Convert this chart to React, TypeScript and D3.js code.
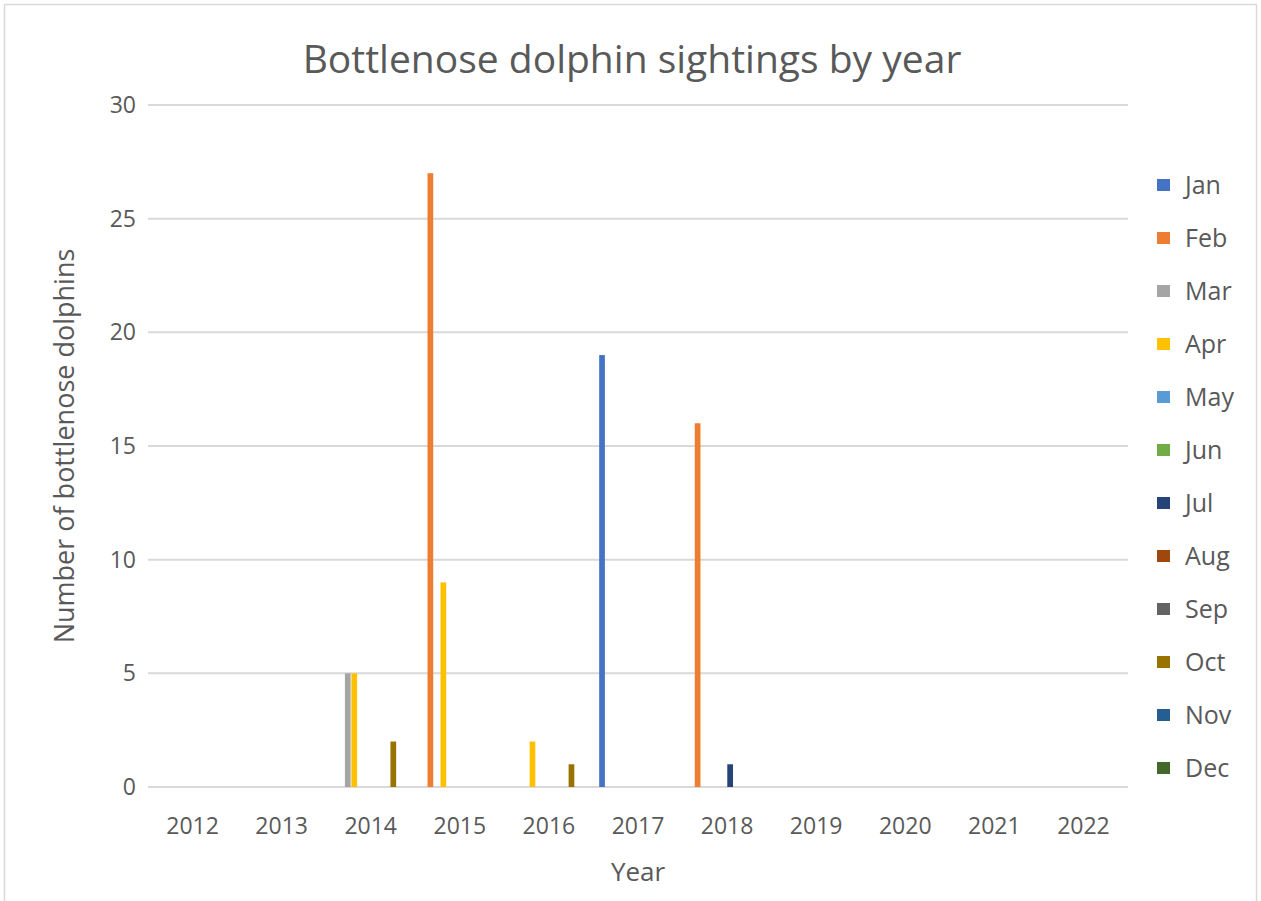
import React from "react";
import * as d3 from "d3";

const years = ["2012", "2013", "2014", "2015", "2016", "2017", "2018", "2019", "2020", "2021", "2022"];
const months = ["Jan", "Feb", "Mar", "Apr", "May", "Jun", "Jul", "Aug", "Sep", "Oct", "Nov", "Dec"];
const monthColors = ["#4472C4", "#ED7D31", "#A5A5A5", "#FFC000", "#5B9BD5", "#70AD47", "#264478", "#9E480E", "#636363", "#997300", "#255E91", "#43682B"];
// sightings per year, one value per month
const sightings2012 = [0, 0, 0, 0, 0, 0, 0, 0, 0, 0, 0, 0];
const sightings2013 = [0, 0, 0, 0, 0, 0, 0, 0, 0, 0, 0, 0];
const sightings2014 = [0, 0, 5, 5, 0, 0, 0, 0, 0, 2, 0, 0];
const sightings2015 = [0, 27, 0, 9, 0, 0, 0, 0, 0, 0, 0, 0];
const sightings2016 = [0, 0, 0, 2, 0, 0, 0, 0, 0, 1, 0, 0];
const sightings2017 = [19, 0, 0, 0, 0, 0, 0, 0, 0, 0, 0, 0];
const sightings2018 = [0, 16, 0, 0, 0, 0, 1, 0, 0, 0, 0, 0];
const sightings2019 = [0, 0, 0, 0, 0, 0, 0, 0, 0, 0, 0, 0];
const sightings2020 = [0, 0, 0, 0, 0, 0, 0, 0, 0, 0, 0, 0];
const sightings2021 = [0, 0, 0, 0, 0, 0, 0, 0, 0, 0, 0, 0];
const sightings2022 = [0, 0, 0, 0, 0, 0, 0, 0, 0, 0, 0, 0];
const sightings = [sightings2012, sightings2013, sightings2014, sightings2015, sightings2016, sightings2017, sightings2018, sightings2019, sightings2020, sightings2021, sightings2022];
const yTicks = [0, 5, 10, 15, 20, 25, 30];

const title = "Bottlenose dolphin sightings by year";
const xTitle = "Year";
const yTitle = "Number of bottlenose dolphins";

export default function App() {
  const W = 1261, H = 901;
  const left = 148, right = 1128, top = 105, bottom = 787;
  const font = "'Open Sans', sans-serif";
  const textColor = "#595959";

  const x0 = d3.scaleBand<string>().domain(years).range([left, right]).padding(0);
  const x1 = d3.scaleBand<string>().domain(months).range([0, x0.bandwidth()]).paddingInner(0).paddingOuter(0.85);
  const y = d3.scaleLinear().domain([0, 30]).range([bottom, top]);

  return (
    <svg width={W} height={H} style={{ position: "absolute", left: 0, top: 0, background: "#fff" }}>
      <rect x={0} y={0} width={W} height={H} fill="#fff" />
      <rect x={4.5} y={4.5} width={1252} height={H + 10} fill="none" stroke="#d9d9d9" strokeWidth={1.5} />
      <text x={632} y={73} textAnchor="middle" fontFamily={font} fontSize={39} fill={textColor}>{title}</text>
      {yTicks.map((t) => (
        <g key={t}>
          <line x1={left} x2={right} y1={y(t)} y2={y(t)} stroke="#d9d9d9" strokeWidth={2} />
          <text x={136} y={y(t)} dy="0.35em" textAnchor="end" fontFamily={font} fontSize={23} fill={textColor}>{t}</text>
        </g>
      ))}
      {years.map((yr, i) => (
        <g key={yr} transform={`translate(${x0(yr)},0)`}>
          {months.map((m, j) => {
            const v = sightings[i][j];
            if (!v) return null;
            return (
              <rect key={m} x={(x1(m) as number) + 0.2} width={x1.bandwidth() - 0.8} y={y(v)} height={y(0) - y(v)} fill={monthColors[j]} />
            );
          })}
          <text x={x0.bandwidth() / 2} y={826} dy="0.35em" textAnchor="middle" fontFamily={font} fontSize={23} fill={textColor}>{yr}</text>
        </g>
      ))}
      <text x={638} y={872} dy="0.35em" textAnchor="middle" fontFamily={font} fontSize={26} fill={textColor}>{xTitle}</text>
      <text transform={`translate(65,${y(15)}) rotate(-90)`} dy="0.35em" textAnchor="middle" fontFamily={font} fontSize={27} fill={textColor}>{yTitle}</text>
      {months.map((m, j) => {
        const cy = 185 + j * 53.0;
        return (
          <g key={m}>
            <rect x={1157} y={cy - 6} width={13} height={12} fill={monthColors[j]} />
            <text x={1185} y={cy} dy="0.35em" fontFamily={font} fontSize={25} fill={textColor}>{m}</text>
          </g>
        );
      })}
    </svg>
  );
}
